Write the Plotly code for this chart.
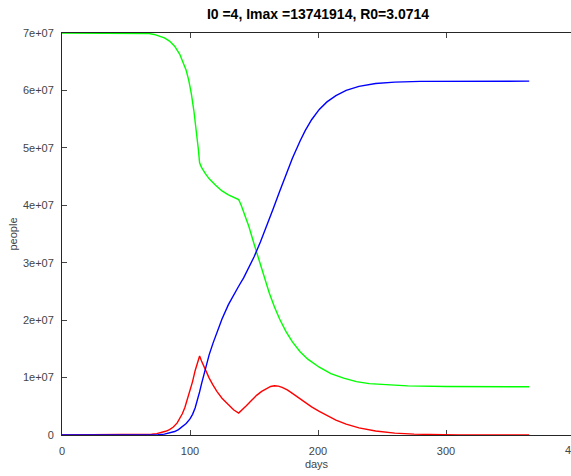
import plotly.graph_objects as go

# Susceptible (green), millions
s_days = [0, 55, 62, 68, 72, 76, 80, 84, 88, 92, 95, 97, 99, 101, 103, 105, 106.5, 107.5,
          109, 112, 115, 120, 125, 130, 135, 138, 140, 143, 146, 150, 154, 158, 162, 166,
          170, 175, 180, 186, 192, 201, 210, 220, 230, 240, 255, 270, 300, 365]
s_vals = [70.0, 70.0, 69.97, 69.9, 69.75, 69.5, 69.15, 68.6, 67.7, 66.3, 64.8, 63.5, 61.8,
          59.5, 56.5, 53.0, 49.8, 47.4, 46.6, 45.5, 44.6, 43.5, 42.5, 41.8, 41.3, 41.0, 40.0,
          38.3, 36.3, 33.3, 30.3, 27.4, 24.7, 22.3, 20.2, 18.0, 16.2, 14.5, 13.2, 11.8, 10.7,
          9.9, 9.3, 8.95, 8.7, 8.55, 8.45, 8.4]

# Infected (red), millions
i_days = [0, 60, 63, 66, 70, 74, 78, 81, 84, 87, 90, 92, 94, 96, 98, 100, 102, 104, 106,
          107.5, 109, 112, 115, 118, 121, 125, 130, 134, 138, 141, 144, 148, 152, 156, 160,
          163, 166, 169, 172, 176, 180, 185, 190, 195, 201, 207, 214, 222, 232, 245, 260,
          275, 290, 310, 365]
i_vals = [0, 0.02, 0.04, 0.07, 0.13, 0.24, 0.42, 0.65, 0.95, 1.4, 2.1, 2.8, 3.7, 4.8, 6.2,
          7.6, 9.3, 11.2, 12.9, 13.741914, 12.9, 11.3, 9.9, 8.7, 7.6, 6.4, 5.2, 4.4, 3.83,
          4.4, 5.1, 6.0, 6.9, 7.6, 8.15, 8.45, 8.58, 8.52, 8.3, 7.85, 7.25, 6.45, 5.65, 4.9,
          4.1, 3.35, 2.6, 1.9, 1.25, 0.7, 0.33, 0.15, 0.07, 0.02, 0.0]

# Recovered (blue), millions
r_days = [0, 60, 70, 75, 80, 85, 88, 91, 94, 97, 100, 102, 104, 106, 107.5, 109, 111, 113,
          115, 118, 121, 125, 130, 134, 138, 142, 146, 150, 155, 160, 165, 170, 175, 180,
          186, 190, 195, 201, 207, 214, 222, 232, 245, 260, 280, 300, 365]
r_vals = [0, 0, 0.02, 0.06, 0.15, 0.38, 0.6, 0.95, 1.4, 2.0, 2.8, 3.6, 4.7, 6.1, 7.5, 8.9,
          10.7, 12.5, 14.0, 16.0, 17.9, 20.2, 22.7, 24.4, 25.9, 27.4, 29.1, 31.0, 33.6, 36.4,
          39.4, 42.4, 45.4, 48.2, 51.2, 53.0, 54.9, 56.7, 58.0, 59.1, 60.0, 60.7, 61.2, 61.45,
          61.57, 61.6, 61.62]

y_tickvals = [0, 1e7, 2e7, 3e7, 4e7, 5e7, 6e7, 7e7]
y_ticktext = ["0", "1e+07", "2e+07", "3e+07", "4e+07", "5e+07", "6e+07", "7e+07"]
x_tickvals = [0, 100, 200, 300]
x_ticktext = ["0", "100", "200", "300"]

title_text = "I0 =4, Imax =13741914, R0=3.0714"

fig = go.Figure()
fig.add_trace(go.Scatter(x=s_days, y=[v * 1e6 for v in s_vals], mode="lines",
                         line=dict(color="#00ff00", width=1.4), showlegend=False))
fig.add_trace(go.Scatter(x=i_days, y=[v * 1e6 for v in i_vals], mode="lines",
                         line=dict(color="#ff0000", width=1.4), showlegend=False))
fig.add_trace(go.Scatter(x=r_days, y=[v * 1e6 for v in r_vals], mode="lines",
                         line=dict(color="#0000ff", width=1.4), showlegend=False))

ml, mr, mt, mb = 62, 0, 33, 41
W, H = 571, 476
pw = W - ml - mr
px_per_day = 128.0 / 100.0
xmax = pw / px_per_day

axis_font = dict(family="Liberation Sans, Arial, sans-serif", size=11, color="#444444")

fig.update_layout(
    width=W, height=H,
    margin=dict(l=ml, r=mr, t=mt, b=mb, pad=0),
    paper_bgcolor="white", plot_bgcolor="white",
    title=dict(text="<b>" + title_text + "</b>", x=(512 / 2) / pw, xref="paper",
               xanchor="center", y=1 - 14 / H, yanchor="middle",
               font=dict(family="Liberation Sans, Arial, sans-serif", size=14, color="#000000")),
    xaxis=dict(range=[0, xmax], tickvals=x_tickvals, ticktext=x_ticktext,
               ticks="inside", ticklen=5, tickcolor="#444444", tickwidth=1,
               showline=True, linecolor="#262626", linewidth=1, mirror="ticks",
               showgrid=False, zeroline=False, tickfont=axis_font,
               title=dict(text="days", font=axis_font, standoff=4),
               layer="below traces", ticklabelstandoff=6),
    yaxis=dict(range=[0, 7e7], tickvals=y_tickvals, ticktext=y_ticktext,
               ticks="inside", ticklen=5, tickcolor="#444444", tickwidth=1,
               showline=True, linecolor="#262626", linewidth=1,
               showgrid=False, zeroline=False, tickfont=axis_font,
               title=dict(text="people", font=axis_font, standoff=3),
               layer="below traces", ticklabelstandoff=5),
    annotations=[dict(text="400", xref="paper", yref="paper", x=(574 - ml) / pw, y=0,
                      xanchor="center", yanchor="top", yshift=-7, showarrow=False,
                      font=axis_font)],
)

fig.write_html("out.html")
